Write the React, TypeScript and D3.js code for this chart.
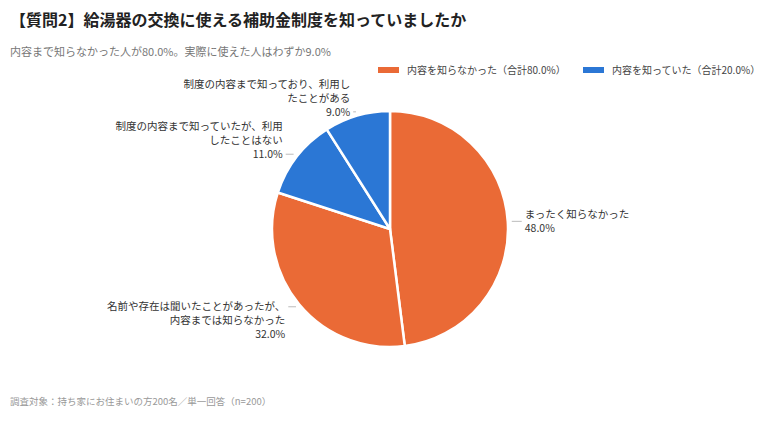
import * as d3 from 'd3';
import { useEffect, useRef } from 'react';

const sliceLabels = [
    ['まったく知らなかった'],
    ['名前や存在は聞いたことがあったが、', '内容までは知らなかった'],
    ['制度の内容まで知っていたが、利用', 'したことはない'],
    ['制度の内容まで知っており、利用し', 'たことがある'],
];
const sliceValues = [48.0, 32.0, 11.0, 9.0];
const sliceGroups = ['unknown', 'unknown', 'known', 'known'];

const legendLabels = ['内容を知らなかった（合計80.0%）', '内容を知っていた（合計20.0%）'];
const legendGroups = ['unknown', 'known'];

const title = '【質問2】給湯器の交換に使える補助金制度を知っていましたか';
const subtitle = '内容まで知らなかった人が80.0%。実際に使えた人はわずか9.0%';
const footnote = '調査対象：持ち家にお住まいの方200名／単一回答（n=200）';

const FONT = "'Noto Sans CJK JP', 'Noto Sans', sans-serif";

export default function App() {
    const ref = useRef<SVGSVGElement | null>(null);

    useEffect(() => {
        const svg = d3.select(ref.current);
        svg.selectAll('*').remove();

        const width = 780;
        const height = 423;
        const cx = 390;
        const cy = 229;
        const radius = 118;

        svg.attr('width', width).attr('height', height).style('font-family', FONT);

        const color = d3.scaleOrdinal<string, string>()
            .domain(['unknown', 'known'])
            .range(['#EA6A36', '#2B77D5']);

        // header
        svg.append('text')
            .attr('x', 10).attr('y', 26)
            .attr('font-size', 16).attr('font-weight', 'bold').attr('fill', '#222')
            .text(title);
        svg.append('text')
            .attr('x', 10).attr('y', 56)
            .attr('font-size', 11).attr('fill', '#777')
            .text(subtitle);

        // legend
        const legendX = [378, 583];
        const legend = svg.append('g')
            .selectAll('g')
            .data(legendLabels)
            .enter()
            .append('g')
            .attr('transform', (_, i) => `translate(${legendX[i]},67)`);
        legend.append('rect')
            .attr('width', 21).attr('height', 6)
            .attr('fill', (_, i) => color(legendGroups[i]));
        legend.append('text')
            .attr('x', 29).attr('y', 3).attr('dy', '0.35em')
            .attr('font-size', 10).attr('fill', '#444')
            .text(d => d);

        // pie
        const data = sliceValues.map((v, i) => ({ value: v, label: sliceLabels[i], group: sliceGroups[i] }));
        const pie = d3.pie<typeof data[number]>().sort(null).value(d => d.value);
        const arcs = pie(data);
        const arc = d3.arc<d3.PieArcDatum<typeof data[number]>>().innerRadius(0).outerRadius(radius);

        const g = svg.append('g').attr('transform', `translate(${cx},${cy})`);
        g.selectAll('path')
            .data(arcs)
            .enter()
            .append('path')
            .attr('d', arc)
            .attr('fill', d => color(d.data.group))
            .attr('stroke', '#fff')
            .attr('stroke-width', 2.5)
            .attr('stroke-linejoin', 'round');

        // labels with short leader lines
        const lineH = 14;
        arcs.forEach(d => {
            const a = (d.startAngle + d.endAngle) / 2;
            const s = Math.sin(a);
            const c = Math.cos(a);
            const x0 = (radius + 4) * s;
            const y0 = -(radius + 4) * c;
            const x1 = x0 + 10 * s;
            const right = s >= 0;
            g.append('line')
                .attr('x1', x0).attr('y1', y0).attr('x2', x1).attr('y2', y0)
                .attr('stroke', '#bbb').attr('stroke-width', 1);

            const lines = [...d.data.label, `${d.data.value.toFixed(1)}%`];
            const n = lines.length;
            const f = c > 0.3 ? 1 : c < -0.3 ? 0 : 0.5;
            const tx = x1 + (right ? 3 : -3);
            g.append('text')
                .attr('text-anchor', right ? 'start' : 'end')
                .attr('font-size', 10.5)
                .attr('fill', '#333')
                .selectAll('tspan')
                .data(lines)
                .enter()
                .append('tspan')
                .attr('x', tx)
                .attr('y', (_, i) => y0 + (i - f * (n - 1)) * lineH)
                .attr('dy', '0.35em')
                .text(t => t);
        });

        // footnote
        svg.append('text')
            .attr('x', 10).attr('y', 405)
            .attr('font-size', 9.5).attr('fill', '#999')
            .text(footnote);
    }, []);

    return (
        <div style={{ position: 'absolute', left: 0, top: 0, background: '#fff' }}>
            <svg ref={ref}></svg>
        </div>
    );
}
